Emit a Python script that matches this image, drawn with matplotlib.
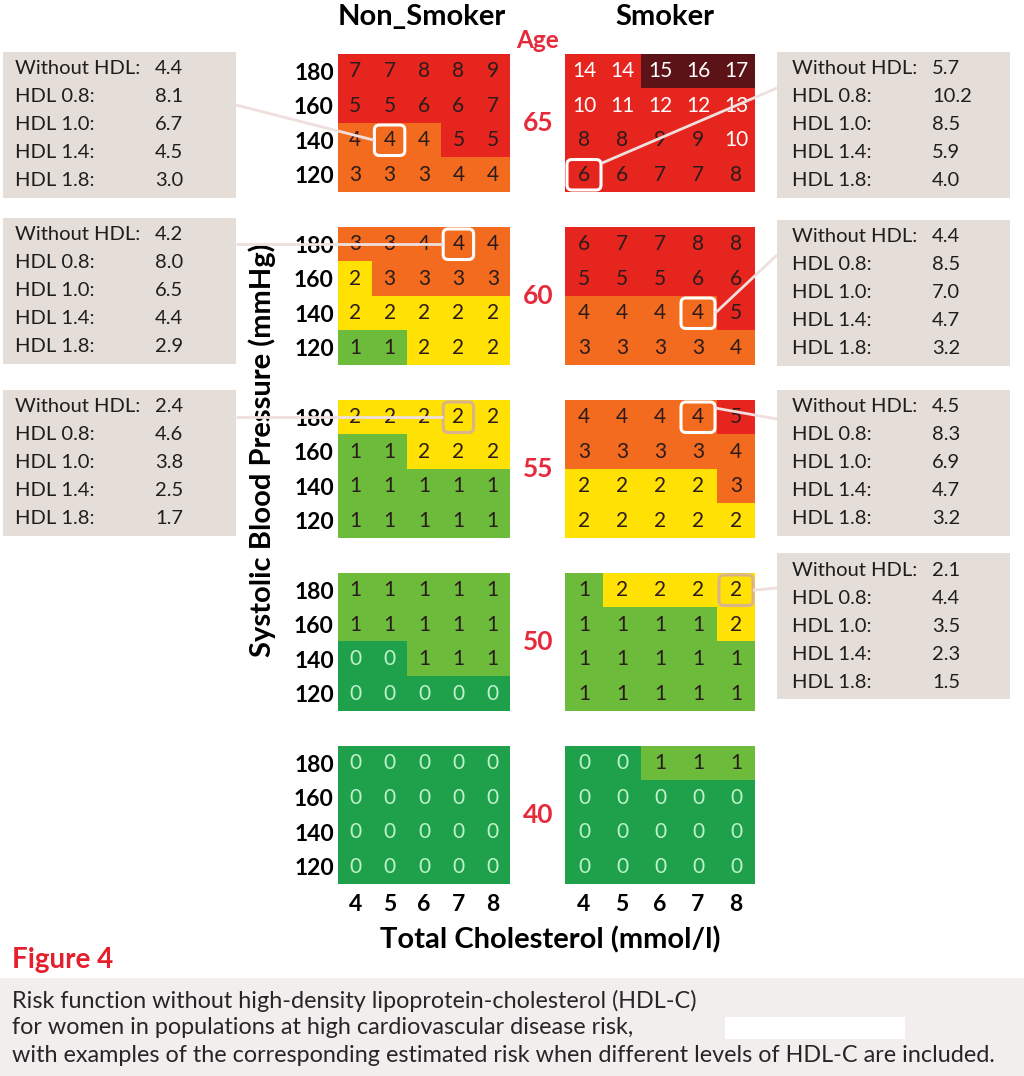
import numpy as np
import matplotlib.pyplot as plt
from matplotlib.colors import ListedColormap, BoundaryNorm
from matplotlib.patches import FancyBboxPatch, Rectangle

plt.rcParams['font.family'] = ['Lato', 'DejaVu Sans']

# data
ages = [65, 60, 55, 50, 40]
bp = [180, 160, 140, 120]
chol = [4, 5, 6, 7, 8]

non_smoker = {
    65: [[7, 7, 8, 8, 9], [5, 5, 6, 6, 7], [4, 4, 4, 5, 5], [3, 3, 3, 4, 4]],
    60: [[3, 3, 4, 4, 4], [2, 3, 3, 3, 3], [2, 2, 2, 2, 2], [1, 1, 2, 2, 2]],
    55: [[2, 2, 2, 2, 2], [1, 1, 2, 2, 2], [1, 1, 1, 1, 1], [1, 1, 1, 1, 1]],
    50: [[1, 1, 1, 1, 1], [1, 1, 1, 1, 1], [0, 0, 1, 1, 1], [0, 0, 0, 0, 0]],
    40: [[0, 0, 0, 0, 0], [0, 0, 0, 0, 0], [0, 0, 0, 0, 0], [0, 0, 0, 0, 0]],
}
smoker = {
    65: [[14, 14, 15, 16, 17], [10, 11, 12, 12, 13], [8, 8, 9, 9, 10], [6, 6, 7, 7, 8]],
    60: [[6, 7, 7, 8, 8], [5, 5, 5, 6, 6], [4, 4, 4, 4, 5], [3, 3, 3, 3, 4]],
    55: [[4, 4, 4, 4, 5], [3, 3, 3, 3, 4], [2, 2, 2, 2, 3], [2, 2, 2, 2, 2]],
    50: [[1, 2, 2, 2, 2], [1, 1, 1, 1, 2], [1, 1, 1, 1, 1], [1, 1, 1, 1, 1]],
    40: [[0, 0, 1, 1, 1], [0, 0, 0, 0, 0], [0, 0, 0, 0, 0], [0, 0, 0, 0, 0]],
}

hdl_labels = ['Without HDL:', 'HDL 0.8:', 'HDL 1.0:', 'HDL 1.4:', 'HDL 1.8:']
non_smoker_hdl = {65: [4.4, 8.1, 6.7, 4.5, 3.0],
                  60: [4.2, 8.0, 6.5, 4.4, 2.9],
                  55: [2.4, 4.6, 3.8, 2.5, 1.7]}
smoker_hdl = {65: [5.7, 10.2, 8.5, 5.9, 4.0],
              60: [4.4, 8.5, 7.0, 4.7, 3.2],
              55: [4.5, 8.3, 6.9, 4.7, 3.2],
              50: [2.1, 4.4, 3.5, 2.3, 1.5]}
# highlighted cell (bp, cholesterol) per age
non_smoker_marked = {65: (140, 5), 60: (180, 7), 55: (180, 7)}
smoker_marked = {65: (120, 4), 60: (140, 7), 55: (180, 7), 50: (180, 8)}

caption = ['Risk function without high-density lipoprotein-cholesterol (HDL-C)',
           'for women in populations at high cardiovascular disease risk,',
           'with examples of the corresponding estimated risk when different levels of HDL-C are included.']

# colour classes: 0, 1, 2, 3-4, 5-14, 15+
cmap = ListedColormap(['#1fa04a', '#6cbb3a', '#ffe104', '#f36b1e', '#e6251f', '#5b1317'])
norm = BoundaryNorm([-0.5, 0.5, 1.5, 2.5, 4.5, 14.5, 40], cmap.N)

W, H = 1024, 1076
fig = plt.figure(figsize=(W / 100, H / 100), dpi=100)
fig.patch.set_facecolor('white')

bg = fig.add_axes([0, 0, 1, 1])
bg.set_xlim(0, W)
bg.set_ylim(H, 0)
bg.axis('off')

top = fig.add_axes([0, 0, 1, 1], zorder=10)
top.set_xlim(0, W)
top.set_ylim(H, 0)
top.axis('off')
top.patch.set_alpha(0)

LINE = '#efdfdd'


def px_axes(x0, y0, w, h):
    return fig.add_axes([x0 / W, 1 - (y0 + h) / H, w / W, h / H])


def draw_panel(ax, grid, ylabels, xlabels):
    arr = np.array(grid)
    ax.imshow(arr, cmap=cmap, norm=norm, aspect='auto',
              extent=[3.5, 8.5, 110, 190], interpolation='nearest')
    for i, b in enumerate(bp):
        for j, c in enumerate(chol):
            v = arr[i, j]
            if v == 0:
                col = '#bff3cb'
            elif v >= 10:
                col = 'white'
            else:
                col = '#2b1b1b'
            ax.text(c, b, str(v), ha='center', va='center', fontsize=15, color=col)
    ax.set_xticks(chol)
    ax.set_yticks(bp)
    ax.set_xticklabels(chol if xlabels else [], fontsize=16.5, fontweight='bold')
    ax.set_yticklabels(bp if ylabels else [], fontsize=16.5, fontweight='bold')
    ax.tick_params(length=0, pad=3)
    ax.tick_params(axis='x', pad=7)
    for s in ax.spines.values():
        s.set_visible(False)


def cell_box(ax, b, c):
    (x0, y0), (x1, y1) = ax.transData.transform([(c - 0.5, b + 10), (c + 0.5, b - 10)])
    return x0, H - y0, x1, H - y1


def mark(box, color):
    x0, y0, x1, y1 = box
    top.add_patch(FancyBboxPatch((x0 + 2, y0 + 2), x1 - x0 - 4, y1 - y0 - 4,
                                 boxstyle='round,pad=0,rounding_size=5',
                                 fill=False, ec=color, lw=2.2))


def hdl_box(x0, y0, values, label_x, value_x):
    bg.add_patch(Rectangle((x0, y0), 233, 146, color='#e5ddd7', lw=0))
    for k, (lab, v) in enumerate(zip(hdl_labels, values)):
        bg.text(label_x, y0 + 17 + 28 * k, lab, fontsize=14.5, va='center', color='#1e1e1e')
        bg.text(value_x, y0 + 17 + 28 * k, f'{v:.1f}', fontsize=14.5, va='center', color='#1e1e1e')


panel_tops = [54, 227, 400, 573, 746]
left_box_tops = {65: 52, 60: 218, 55: 390}
right_box_tops = {65: 52, 60: 220, 55: 390, 50: 553}
left_anchor_y = {65: 105}
right_anchor_y = {65: 88, 60: 255, 55: 419, 50: 588}
fig.canvas.draw()

for age, ty in zip(ages, panel_tops):
    ax_n = px_axes(338, ty, 172, 138)
    draw_panel(ax_n, non_smoker[age], True, age == 40)
    ax_s = px_axes(565, ty, 190, 138)
    draw_panel(ax_s, smoker[age], False, age == 40)
    bg.text(538, ty + 69, str(age), color='#e62a3c', fontsize=19, fontweight='bold',
            ha='center', va='center')

    if age in non_smoker_marked:
        box = cell_box(ax_n, *non_smoker_marked[age])
        mark(box, '#d9b48a' if age == 55 else 'white')
        hdl_box(3, left_box_tops[age], non_smoker_hdl[age], 15, 155)
        ym = (box[1] + box[3]) / 2
        top.plot([236, box[0] + 2], [left_anchor_y.get(age, ym), ym], color=LINE,
                 lw=2, solid_capstyle='butt')
    if age in smoker_marked:
        box = cell_box(ax_s, *smoker_marked[age])
        mark(box, '#d9b48a' if age == 50 else 'white')
        hdl_box(777, right_box_tops[age], smoker_hdl[age], 792, 932)
        if age == 65:
            sx, sy = box[2] - 2, box[1] + 6
        elif age == 55:
            sx, sy = box[2] - 2, box[1] + 8
        else:
            sx, sy = box[2] - 2, (box[1] + box[3]) / 2
        top.plot([sx, 777], [sy, right_anchor_y[age]], color=LINE,
                 lw=2, solid_capstyle='butt')

# headings and axis titles
bg.text(422, 17, 'Non_Smoker', fontsize=21, fontweight='bold', ha='center', va='center')
bg.text(665, 17, 'Smoker', fontsize=21, fontweight='bold', ha='center', va='center')
bg.text(538, 40, 'Age', fontsize=17.5, fontweight='bold', color='#e62a3c', ha='center', va='center')
bg.text(262, 450, 'Systolic Blood Pressure (mmHg)', fontsize=21, fontweight='bold',
        rotation=90, ha='center', va='center')
bg.text(550, 940, 'Total Cholesterol (mmol/l)', fontsize=21, fontweight='bold',
        ha='center', va='center')

# figure caption
bg.add_patch(Rectangle((0, 978), W, H - 978, color='#f2eeee', lw=0))
bg.text(12, 960, 'Figure 4', fontsize=20, fontweight='bold', color='#e3202c', va='center')
for k, line in enumerate(caption):
    bg.text(12, 1001 + 27 * k, line, fontsize=16.8, va='center', color='#262626')
bg.add_patch(Rectangle((725, 1017), 180, 22, color='white', lw=0))

plt.savefig('out.png', dpi=100)
